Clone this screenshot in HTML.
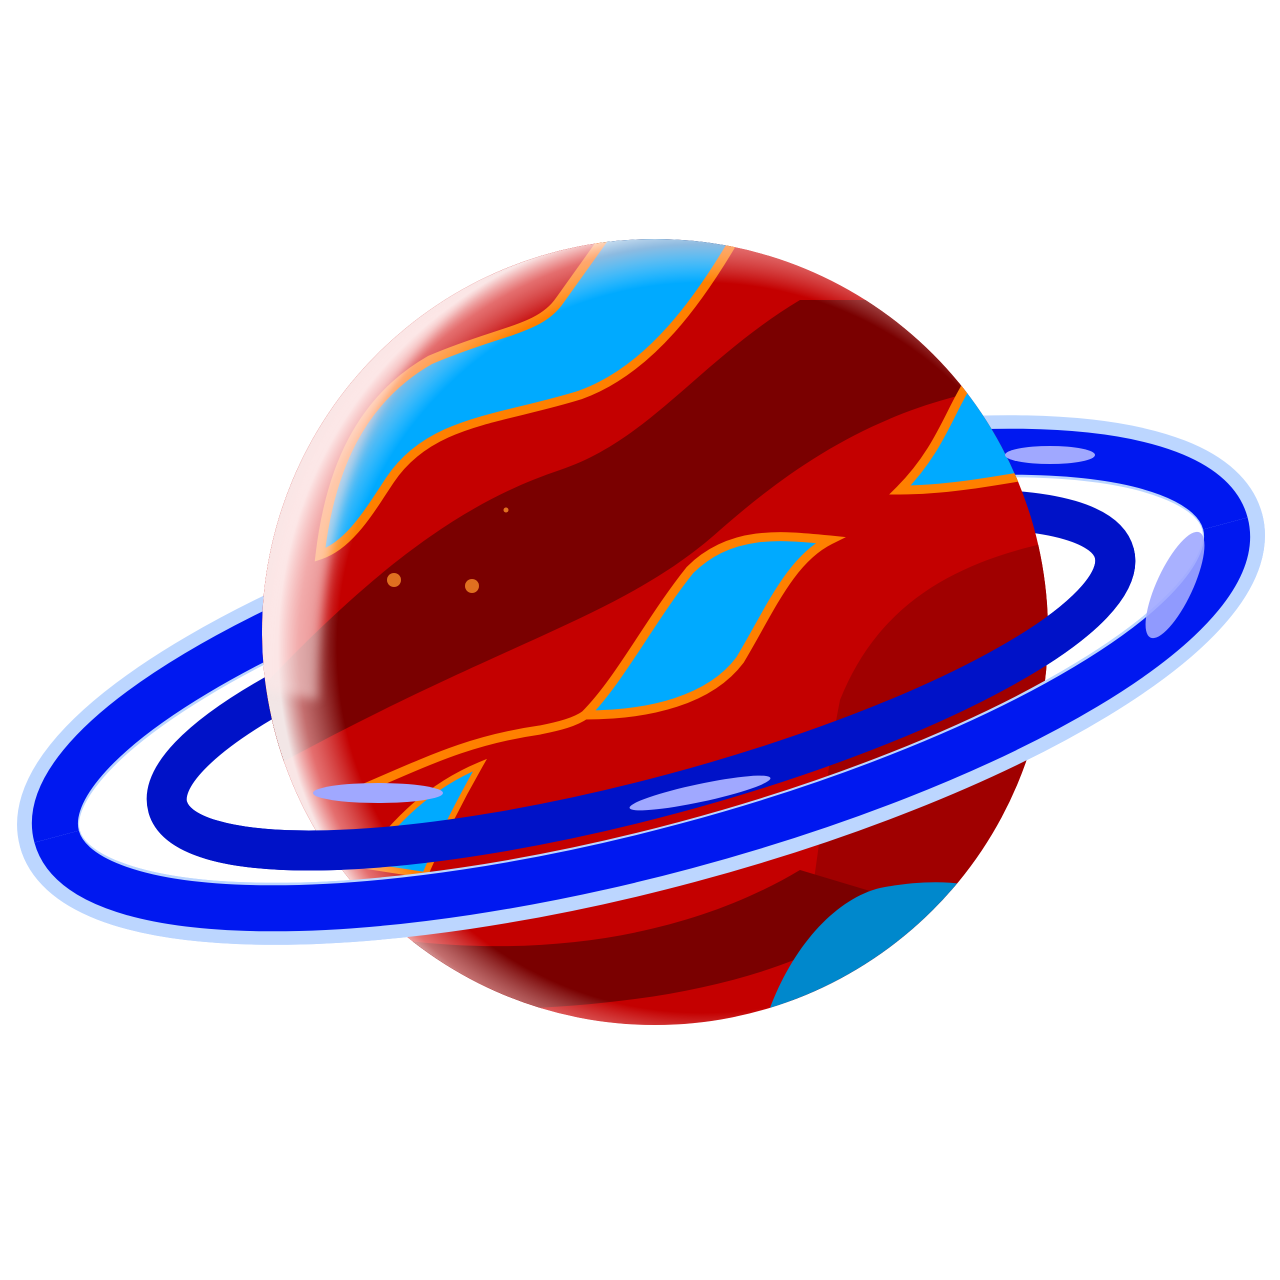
<!DOCTYPE html>
<html><head><meta charset="utf-8"><style>
html,body{margin:0;padding:0;background:#fff;width:1280px;height:1280px;overflow:hidden}
</style></head><body>
<svg width="1280" height="1280" viewBox="0 0 1280 1280" xmlns="http://www.w3.org/2000/svg">
<defs>
  <clipPath id="pc"><circle cx="655" cy="632" r="393"/></clipPath>
  <radialGradient id="glow" cx="0.56" cy="0.52" r="0.54">
    <stop offset="0.86" stop-color="#fff" stop-opacity="0"/>
    <stop offset="0.95" stop-color="#ffc8c8" stop-opacity="0.55"/>
    <stop offset="1" stop-color="#fff" stop-opacity="0.9"/>
  </radialGradient>
  <filter id="blur"><feGaussianBlur stdDeviation="5"/></filter>
  <clipPath id="front"><rect x="-800" y="0" width="1600" height="400"/></clipPath>
</defs>

<g transform="translate(641,680) rotate(-15)">
  <ellipse rx="612" ry="178" fill="none" stroke="#bcd6ff" stroke-width="62"/>
  <ellipse rx="605" ry="172" fill="none" stroke="#0018f0" stroke-width="46"/>
  <ellipse rx="490" ry="118" fill="none" stroke="#0012c8" stroke-width="40"/>
</g>

<g clip-path="url(#pc)">
  <rect x="250" y="230" width="820" height="810" fill="#c40000"/>
  <path d="M250,700 C380,560 470,500 560,470 C650,440 700,360 800,300 L1060,300 L1060,380 C900,390 800,460 720,530 C620,620 500,640 250,780 Z" fill="#7a0000"/>
  <path d="M840,700 C880,600 960,560 1060,540 L1060,1040 L780,1040 C820,900 820,800 840,700 Z" fill="#a00000"/>
  <path d="M400,940 C560,960 700,930 800,870 L900,900 C800,980 650,1010 450,1010 Z" fill="#7a0000"/>
  <path d="M320,555 C330,470 360,400 430,360 C500,330 540,330 560,300 L610,230 L740,230 C700,300 650,370 580,395 C500,420 430,420 390,480 C370,510 350,545 320,555 Z" fill="#00aaff" stroke="#ff8000" stroke-width="9"/>
  <path d="M585,715 C620,680 650,620 690,570 C730,530 780,535 830,540 C790,560 770,610 740,660 C710,700 650,715 585,715 Z" fill="#00aaff" stroke="#ff8000" stroke-width="9"/>
  <path d="M900,490 C940,450 950,410 970,380 L1060,380 L1060,470 C1000,480 950,490 900,490 Z" fill="#00aaff" stroke="#ff8000" stroke-width="9"/>
  <path d="M360,790 C430,760 470,740 540,730 C560,726 575,722 585,715" fill="none" stroke="#ff8000" stroke-width="9"/>
  <path d="M360,865 C390,830 420,790 480,765 C460,800 440,840 425,875 Z" fill="#00aaff" stroke="#ff8000" stroke-width="6"/>
  <path d="M760,1040 C780,960 830,900 880,888 C920,880 960,880 990,890 L1060,1040 Z" fill="#0088cc"/>
  <circle cx="394" cy="580" r="7" fill="#e07020"/>
  <circle cx="472" cy="586" r="7" fill="#e07020"/>
  <circle cx="506" cy="510" r="2.5" fill="#e07020"/>
  <circle cx="655" cy="632" r="393" fill="url(#glow)"/>
  <path d="M262,690 C255,520 330,340 500,270 C370,370 320,500 318,700 Z" fill="#ffe8e8" opacity="0.5" filter="url(#blur)"/>
</g>

<g transform="translate(641,680) rotate(-15)" clip-path="url(#front)">
  <ellipse rx="612" ry="178" fill="none" stroke="#bcd6ff" stroke-width="62"/>
  <ellipse rx="605" ry="172" fill="none" stroke="#0018f0" stroke-width="46"/>
  <ellipse rx="490" ry="118" fill="none" stroke="#0012c8" stroke-width="40"/>
</g>
<ellipse cx="378" cy="793" rx="65" ry="10" fill="#a0a8ff"/>
<ellipse cx="700" cy="793" rx="72" ry="9" fill="#a0a8ff" transform="rotate(-12 700 793)"/>
<ellipse cx="1175" cy="585" rx="18" ry="58" fill="#a0a8ff" opacity="0.9" transform="rotate(25 1175 585)"/>
<ellipse cx="1050" cy="455" rx="45" ry="9" fill="#a0a8ff"/>
</svg>
</body></html>
